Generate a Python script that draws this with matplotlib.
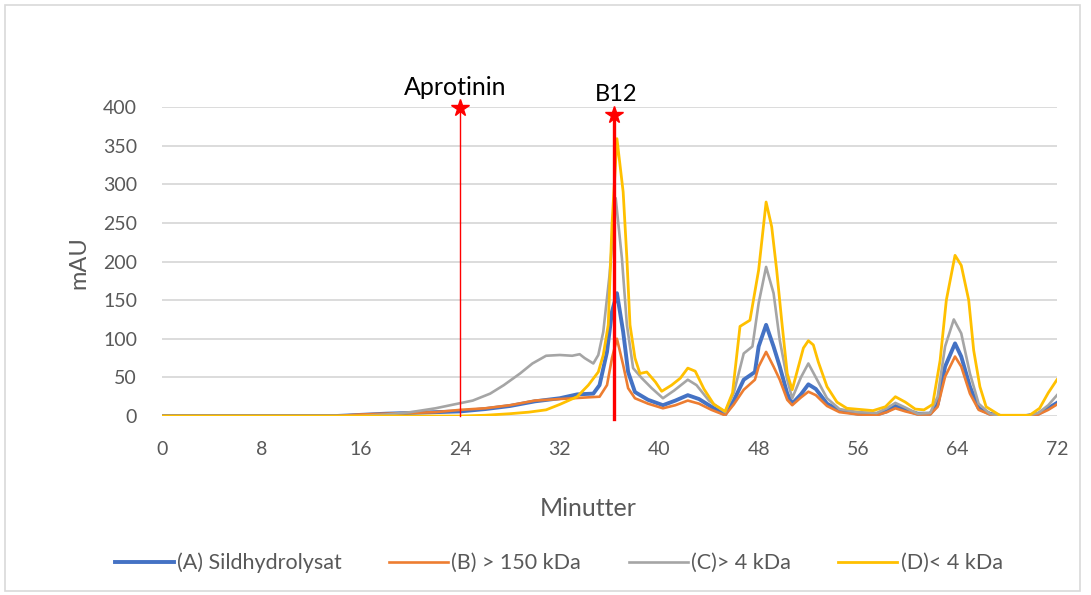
import matplotlib.pyplot as plt
from matplotlib.patches import Rectangle

plt.rcParams['font.family'] = ['Lato', 'DejaVu Sans']

# (A) Sildhydrolysat
t_a = [0, 14, 16, 18, 20, 22, 24, 26, 28, 30, 32, 33.4, 34.7, 35.2, 35.8, 36.2, 36.6, 37.1, 37.5, 38.05,
       39.1, 40.3, 41.3, 42.3, 43.2, 44.2, 45.3, 46.0, 46.8, 47.7, 48.0, 48.6, 49.2, 49.7, 50.3, 50.7,
       51.4, 52.0, 52.6, 53.5, 54.5, 56, 57.5, 58.3, 59.0, 59.8, 60.8, 61.8, 62.4, 63.0, 63.8, 64.3,
       65.0, 65.7, 66.6, 67.5, 69.5, 70.5, 71.3, 72]
v_a = [0, 0, 1.5, 3, 4, 5, 6, 9, 13, 19, 23, 28, 29, 40, 83, 135, 159, 109, 57, 31,
       21, 14, 20, 27, 22, 12, 2, 20, 47, 57, 90, 118, 90, 64, 29, 16,
       28, 41, 35, 16, 7, 3, 2, 6, 13, 8, 3, 3, 15, 64, 94, 77,
       38, 10, 3, 0, 0, 3, 10, 17]

# (B) > 150 kDa
t_b = [0, 14, 16, 18, 20, 22, 24, 26, 28, 30, 32, 34.1, 35.2, 35.8, 36.2, 36.6, 37.1, 37.5, 38.05, 39.1,
       40.3, 41.3, 42.3, 43.2, 44.2, 45.3, 46.0, 46.8, 47.7, 48.0, 48.6, 49.2, 49.7, 50.3, 50.7, 51.4,
       52.0, 52.6, 53.5, 54.5, 56, 57.5, 58.3, 59.0, 59.8, 60.8, 61.8, 62.4, 63.0, 63.8, 64.3, 65.0,
       65.7, 66.6, 67.5, 69.5, 70.5, 71.3, 72]
v_b = [0, 0, 2, 3, 4, 5, 8, 10, 14, 20, 22, 24, 25, 40, 75, 100, 66, 36, 23, 16,
       10, 14, 20, 16, 8, 1, 15, 34, 47, 64, 83, 64, 47, 21, 14, 24,
       31.5, 27, 13, 5, 2, 1, 5, 10, 6, 2, 2, 12, 51, 77, 64, 29,
       8, 2, 0, 0, 2, 8, 15]

# (C)> 4 kDa
t_c = [0, 16, 18, 20, 22, 23.8, 25, 26.4, 27.5, 28.8, 29.8, 30.9, 32, 33, 33.6, 34.0, 34.7, 35.1,
       35.5, 36.0, 36.5, 37.0, 37.4, 37.9, 38.6, 39.4, 40.3, 41.2, 42.3, 43.0, 44.0, 45.3, 46.0,
       46.8, 47.5, 48.0, 48.6, 49.2, 49.7, 50.3, 50.7, 51.4, 52.0, 52.6, 53.5, 54.5, 56, 57.5,
       58.3, 59.0, 59.8, 60.8, 61.8, 62.4, 63.0, 63.7, 64.3, 65.0, 65.7, 66.6, 67.5, 69.5, 70.5,
       71.3, 72]
v_c = [0, 0, 2, 5, 10, 16, 20, 29, 40, 55, 68, 78, 79, 78, 80, 75, 68, 79,
       109, 182, 282, 204, 118, 62, 49, 36, 23, 33, 47, 40, 20, 5, 30,
       81, 90, 146, 193, 159, 98, 47, 23, 50, 68, 50, 23, 9, 5, 4,
       10, 17, 11, 3, 4, 25, 90, 125, 107, 55, 16, 3, 0, 0, 4,
       14, 27]

# (D)< 4 kDa
t_d = [0, 24, 26, 28, 29.5, 30.9, 32, 33.4, 34.3, 35.1, 35.5, 35.9, 36.2, 36.6, 37.1, 37.4, 37.65,
       38.05, 38.45, 39.0, 39.7, 40.2, 41.0, 41.7, 42.3, 42.9, 43.6, 44.4, 45.3, 45.9, 46.5, 47.3,
       48.0, 48.6, 49.05, 49.45, 49.85, 50.3, 50.7, 51.3, 51.6, 52.0, 52.4, 52.8, 53.5, 54.3, 55.1,
       57.2, 58.2, 59.0, 59.8, 60.6, 61.3, 62.0, 62.6, 63.1, 63.8, 64.3, 64.9, 65.3, 65.8, 66.3,
       67.4, 69.8, 70.6, 71.3, 72]
v_d = [0, 0, 1, 3, 5, 8, 15, 25, 40, 57, 79, 118, 247, 359, 290, 204, 118,
       75, 55, 57, 44, 32, 40, 49, 62, 58, 35, 15, 6, 30, 116, 124,
       189, 277, 245, 189, 124, 55, 34, 70, 88, 97.5, 92, 70, 38, 18, 10,
       7, 12, 25, 18, 9, 8, 15, 72, 150, 208, 195, 150, 85, 38, 12,
       1, 1, 10, 30, 47]

labels = ['(A) Sildhydrolysat', '(B) > 150 kDa', '(C)> 4 kDa', '(D)< 4 kDa']
colors = ['#4472C4', '#ED7D31', '#A5A5A5', '#FFC000']

marker_names = ['Aprotinin', 'B12']
marker_x = [24, 36.4]
marker_y = [399, 390]

fig = plt.figure(figsize=(10.91, 5.95), dpi=100)
fig.patches.append(Rectangle((0.005, 0.006), 0.985, 0.985, transform=fig.transFigure,
                             fill=False, edgecolor='#d9d9d9', linewidth=1.2))
ax = fig.add_axes([0.1485, 0.3008, 0.8203, 0.5194])

grey = '#595959'
for y in range(0, 401, 50):
    ax.axhline(y, color='#d9d9d9', lw=1.3, zorder=0)

widths = [2.8, 1.9, 1.9, 2.0]
for t, v, c, lab, w in zip([t_a, t_b, t_c, t_d], [v_a, v_b, v_c, v_d], colors, labels, widths):
    ax.plot(t, v, color=c, lw=w, label=lab, zorder=3, solid_joinstyle='round')

# reference markers
ax.plot([marker_x[0]] * 2, [0, marker_y[0]], color='red', lw=1.0, zorder=4, clip_on=False)
ax.plot([marker_x[1]] * 2, [-4, marker_y[1]], color='red', lw=2.4, zorder=4, clip_on=False)
ax.plot(marker_x, marker_y, '*', color='red', ms=13, zorder=5, clip_on=False)
ax.text(23.55, 415.5, marker_names[0], ha='center', va='baseline', fontsize=18, color='black')
ax.text(36.57, 408, marker_names[1], ha='center', va='baseline', fontsize=17, color='black')

ax.set_xlim(0, 72)
ax.set_ylim(0, 400)
ax.set_xticks(range(0, 73, 8))
ax.set_yticks(range(0, 401, 50))
ax.tick_params(length=0, labelsize=14, colors=grey, pad=18)
for s in ax.spines.values():
    s.set_visible(False)

fig.text(588 / 1091, 1 - 509 / 595, 'Minutter', ha='center', va='center', fontsize=18, color=grey)
fig.text(79 / 1091, 1 - 263 / 595, 'mAU', ha='center', va='center', rotation=90, fontsize=17, color=grey)

fig.legend(loc='center', bbox_to_anchor=(0.512, 0.054), ncol=4, frameon=False,
           fontsize=15.5, labelcolor=grey, handlelength=2.75, columnspacing=2.2, handletextpad=0.15)

fig.savefig('out.png', dpi=100)
